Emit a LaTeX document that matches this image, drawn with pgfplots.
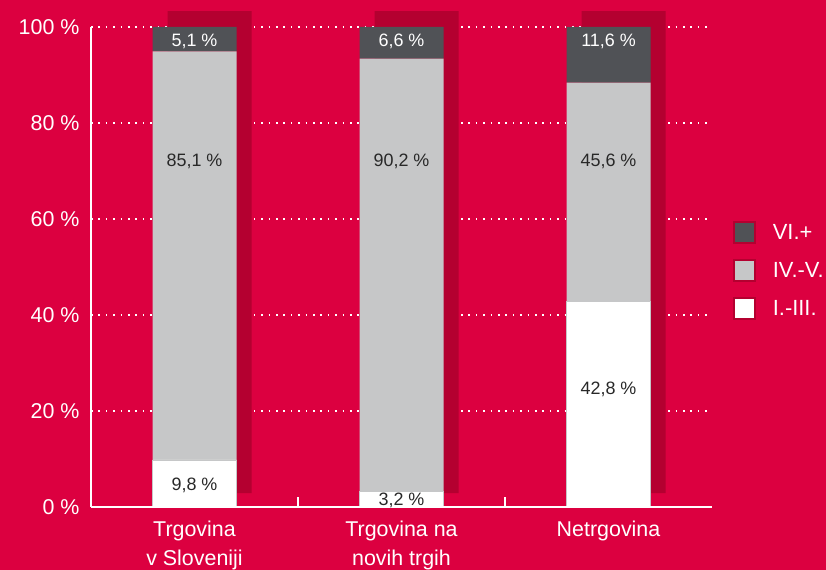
\documentclass[border=0pt]{standalone}
\usepackage{pgfplots}
\pgfplotsset{compat=1.18}
\usepackage{fontspec}
\setmainfont{Liberation Sans}
\definecolor{bg}{RGB}{220,0,64}
\definecolor{shadowred}{RGB}{180,0,48}
\definecolor{darkseg}{RGB}{80,82,86}
\definecolor{lightseg}{RGB}{198,199,200}
\definecolor{txt}{RGB}{40,40,40}
\tikzset{lbl/.style={font=\fontsize{18}{21}\selectfont}}
\pgfplotsset{
  base/.style={
    scale only axis, width=621bp, height=480bp,
    at={(91bp,63bp)}, anchor=south west,
    xmin=-0.5, xmax=2.5, ymin=0, ymax=100,
    bar width=84bp,
  },
  sq/.style={legend image code/.code={
    \draw[##1, draw=shadowred, line width=1.5bp] (0bp,-10.5bp) rectangle (21bp,10.5bp);}},
}
\begin{document}
\begin{tikzpicture}[x=1bp,y=1bp]
\fill[bg] (0,0) rectangle (826,570);
\useasboundingbox (0,0) rectangle (826,570);
% grid + shadows
\begin{axis}[base, ybar stacked, bar shift=15bp, clip=false,
  axis line style={draw=none}, ytick={20,40,60,80,100}, xtick=\empty,
  ymajorgrids, grid style={white, line width=1.6bp, dash pattern=on 1.6bp off 5.8bp},
  yticklabels={}, major tick length=0pt]
\addplot[draw=none, fill=none] coordinates {(0,2.9) (1,2.9) (2,2.9)};
\addplot[draw=none, fill=shadowred] coordinates {(0,100.4) (1,100.4) (2,100.4)};
\end{axis}
% main bars
\begin{axis}[base, ybar stacked, axis on top,
  axis x line=bottom, axis y line=left,
  axis line style={white, line width=1.5bp, -},
  ytick={0,20,40,60,80,100},
  yticklabel={\pgfmathprintnumber{\tick}\ \%},
  ytick style={draw=none},
  yticklabel style={font=\fontsize{21.5}{24}\selectfont, text=white, anchor=east, xshift=-3bp},
  /pgf/number format/assume math mode=true,
  xtick={0.5,1.5}, xticklabels={}, xtick align=inside,
  xtick style={white, line width=1.5bp}, major tick length=10bp,
  extra x ticks={0,1,2},
  extra x tick labels={Trgovina\\v Sloveniji, Trgovina na\\novih trgih, Netrgovina},
  extra x tick style={major tick length=0pt, tick style={draw=none},
    xticklabel style={font=\fontsize{21.5}{30}\selectfont, text=white, align=center, anchor=north, yshift=-10bp}},
  reverse legend,
  legend style={at={(1.034,0.596)}, anchor=north west, draw=none, fill=none,
    font=\fontsize{22}{26}\selectfont, text=white, inner sep=0pt,
    row sep=15.5bp, nodes={inner sep=2bp},
    /tikz/every odd column/.append style={column sep=15bp}},
  legend cell align=left, clip=false]
\addplot[draw=lightseg, line width=0.3bp, fill=white, sq] coordinates {(0,9.8) (1,3.2) (2,42.8)};
\addlegendentry{I.-III.}
\addplot[draw=none, fill=lightseg, sq] coordinates {(0,85.1) (1,90.2) (2,45.6)};
\addlegendentry{IV.-V.}
\addplot[draw=none, fill=darkseg, sq] coordinates {(0,5.1) (1,6.6) (2,11.6)};
\addlegendentry{VI.+}
\end{axis}
% value labels
\begin{axis}[base, hide axis, clip=false]
\node[lbl, text=white] at (axis cs:0,97.0) {5,1\ \%};
\node[lbl, text=white] at (axis cs:1,97.0) {6,6\ \%};
\node[lbl, text=white] at (axis cs:2,97.0) {11,6\ \%};
\node[lbl, text=txt] at (axis cs:0,72.0) {85,1\ \%};
\node[lbl, text=txt] at (axis cs:1,72.0) {90,2\ \%};
\node[lbl, text=txt] at (axis cs:2,72.0) {45,6\ \%};
\node[lbl, text=txt] at (axis cs:0,4.4) {9,8\ \%};
\node[lbl, text=txt] at (axis cs:1,1.4) {3,2\ \%};
\node[lbl, text=txt] at (axis cs:2,24.4) {42,8\ \%};
\end{axis}
\end{tikzpicture}
\end{document}
